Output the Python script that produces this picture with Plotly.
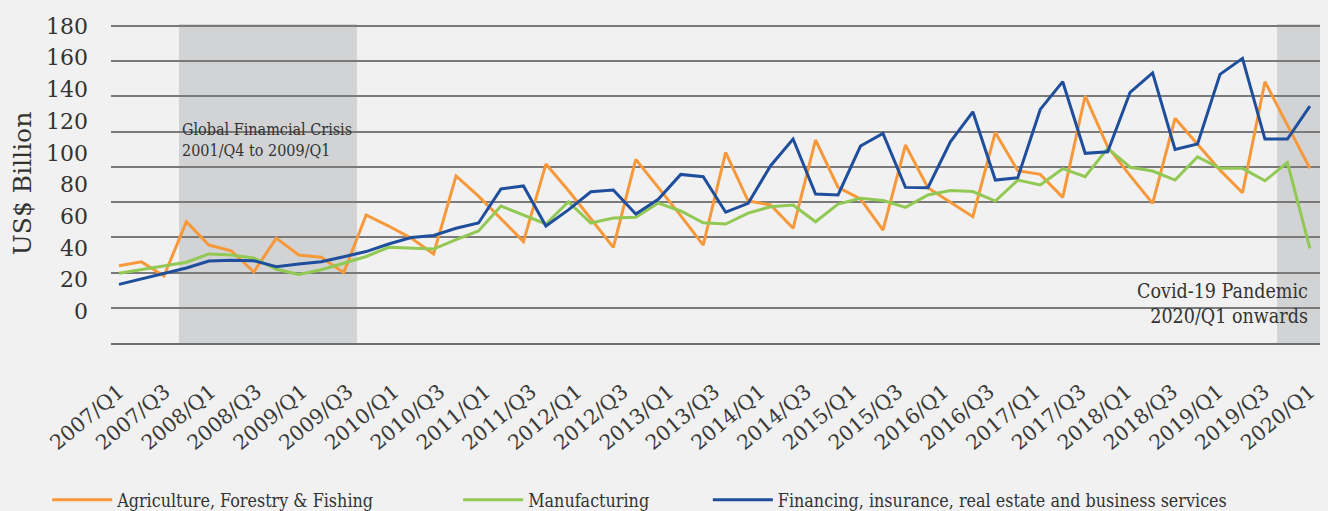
import numpy as np
import plotly.graph_objects as go

# ---------------- data ----------------
quarters = [f"{y}/Q{q}" for y in range(2007, 2021) for q in (1, 2, 3, 4)][:54]  # 2007/Q1 .. 2020/Q2

agriculture = [28.8, 31.2, 22.3, 56.5, 41.8, 38.2, 24.8, 46.2, 35.5, 34.1,
               24.4, 60.8, 53.8, 46.2, 36.2, 85.4, 72.7, 58.5, 44.0, 92.9,
               76.2, 58.4, 40.3, 95.9, 78.1, 60.4, 41.8, 100.3, 69.6, 67.1,
               52.4, 108.1, 78.2, 70.9, 51.3, 104.9, 78.0, 68.6, 59.7, 112.9,
               88.7, 86.4, 71.9, 136.0, 103.8, 85.6, 68.1, 121.8, 105.6, 89.1,
               74.8, 144.9, 117.5, 90.2]

manufacturing = [24.0, 26.4, 28.8, 31.0, 36.2, 35.5, 33.6, 26.5, 23.3, 26.2,
                 30.3, 34.6, 40.4, 39.9, 39.3, 45.2, 50.7, 66.4, 60.8, 55.1,
                 69.1, 55.7, 58.9, 59.3, 68.3, 63.3, 55.9, 55.1, 62.0, 66.0,
                 67.1, 56.5, 67.7, 71.3, 69.9, 65.6, 73.4, 76.2, 75.6, 69.6,
                 82.8, 79.7, 90.0, 84.9, 102.8, 90.9, 88.5, 82.8, 97.5, 90.2,
                 90.2, 82.4, 93.8, 39.7]

financing = [17.0, 20.4, 23.9, 27.3, 31.7, 32.2, 31.9, 28.1, 29.8, 31.3,
             34.4, 37.7, 42.5, 46.6, 47.9, 52.4, 55.7, 77.2, 79.1, 53.8,
             64.0, 75.4, 76.5, 61.4, 70.7, 86.4, 84.9, 62.5, 68.1, 91.9,
             108.7, 74.0, 73.4, 104.3, 112.3, 78.2, 78.0, 107.0, 125.9, 82.8,
             84.3, 127.4, 144.9, 99.7, 100.7, 138.2, 150.5, 102.2, 105.6, 149.5,
             159.6, 108.7, 108.7, 129.5]

tick_labels = quarters[0:53:2]          # 2007/Q1 ... 2020/Q1
y_tick_values = [0, 20, 40, 60, 80, 100, 120, 140, 160, 180]

series_names = ["Agriculture, Forestry & Fishing", "Manufacturing",
                "Financing, insurance, real estate and business services"]
series_values = [agriculture, manufacturing, financing]
series_colors = ["#f7993a", "#92c954", "#1f4e9c"]
legend_ids = ["legend", "legend2", "legend3"]

x_idx = list(range(len(quarters)))

SERIF = "DejaVu Serif"
SERIF_C = "DejaVu Serif Condensed, DejaVu Serif"
TXT = "#333333"

fig = go.Figure()
for name, vals, col, lg in zip(series_names, series_values, series_colors, legend_ids):
    fig.add_trace(go.Scatter(
        x=x_idx, y=vals, name=name, mode="lines",
        line=dict(color=col, width=3),
        customdata=quarters,
        hovertemplate="%{customdata}: %{y}<extra>" + name + "</extra>",
        legend=lg,
    ))

legend_common = dict(orientation="h", xref="container", yref="container",
                     xanchor="left", yanchor="middle", y=0.021,
                     bgcolor="rgba(0,0,0,0)",
                     font=dict(family=SERIF_C, size=17.8, color=TXT),
                     itemwidth=60)

fig.update_layout(
    width=1328, height=511,
    margin=dict(l=111, r=8, t=24, b=168),
    paper_bgcolor="#f1f1f1", plot_bgcolor="#f1f1f1",
    showlegend=True,
    legend=dict(x=0.0355, **legend_common),
    legend2=dict(x=0.345, **legend_common),
    legend3=dict(x=0.533, **legend_common),
    xaxis=dict(
        range=[-0.356, 53.45], showgrid=False, zeroline=False,
        tickmode="array", tickvals=list(np.linspace(0, len(quarters) - 1, len(tick_labels))),
        ticktext=tick_labels, tickangle=-40,
        tickfont=dict(family=SERIF, size=20.5, color="#3a3a3a"),
        ticks="", ticklabelstandoff=27,
        showline=True, linecolor="#6e6e6e", linewidth=1.5,
    ),
    yaxis=dict(
        range=[-20, 181.3], showgrid=False, zeroline=False,
        tickmode="array", tickvals=y_tick_values,
        tickfont=dict(family=SERIF, size=22, color=TXT),
        ticks="", ticklabelstandoff=22,
        title=dict(text="US$ Billion", font=dict(family=SERIF, size=25, color=TXT), standoff=7),
    ),
    yaxis2=dict(
        overlaying="y", anchor="x", range=[-1, 8.057], dtick=1, tick0=0,
        showgrid=True, gridcolor="#7a7a7a", gridwidth=1.5,
        showticklabels=False, zeroline=False, ticks="",
    ),
    shapes=[
        dict(type="rect", xref="x", yref="paper", x0=2.67, x1=10.59, y0=0, y1=1,
             fillcolor="#d2d3d5", line=dict(width=0), layer="between"),
        dict(type="rect", xref="x", yref="paper", x0=51.54, x1=53.45, y0=0, y1=1,
             fillcolor="#d2d3d5", line=dict(width=0), layer="between"),
    ],
    annotations=[
        dict(text="Global Finamcial Crisis<br>2001/Q4 to 2009/Q1", xref="x", yref="paper",
             x=2.67, y=0.636, xanchor="left", yanchor="middle", align="left", showarrow=False,
             xshift=1, font=dict(family=SERIF_C, size=16, color=TXT)),
        dict(text="Covid-19 Pandemic<br>2020/Q1 onwards", xref="x", yref="paper",
             x=53, y=0.122, xanchor="right", yanchor="middle", align="right", showarrow=False,
             font=dict(family=SERIF_C, size=19.5, color=TXT)),
    ],
)

# invisible helper so the grid axis is instantiated
fig.add_trace(go.Scatter(x=[None], y=[None], yaxis="y2", showlegend=False, hoverinfo="skip"))

fig.write_html("out.html", config={"displayModeBar": False},
               post_script="document.body.style.margin='0';")
